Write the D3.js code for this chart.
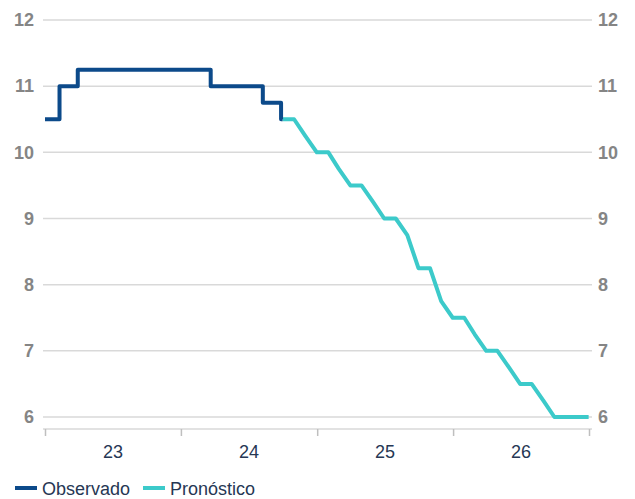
<!DOCTYPE html>
<html>
<head>
<meta charset="utf-8">
<script src="https://cdn.jsdelivr.net/npm/d3@7"></script>
<style>
	body { margin: 0; background: #fff; }
	svg text { font-family: "Liberation Sans", Arial, sans-serif; }
</style>
</head>
<body>
<svg id="chart"></svg>
<script>
const W = 635, H = 499;

// tasa observada: fechas de cambio y nivel (escalonada)
const observedDates = ['2023-01-01', '2023-02-09', '2023-03-30', '2024-03-21', '2024-08-08', '2024-09-26', '2024-09-30'];
const observedValues = [10.5, 11, 11.25, 11, 10.75, 10.5, 10.5];

// pronóstico: fin de cada mes
const forecastDates = ['2024-09-30', '2024-10-31', '2024-11-30', '2024-12-31',
	'2025-01-31', '2025-02-28', '2025-03-31', '2025-04-30', '2025-05-31', '2025-06-30',
	'2025-07-31', '2025-08-31', '2025-09-30', '2025-10-31', '2025-11-30', '2025-12-31',
	'2026-01-31', '2026-02-28', '2026-03-31', '2026-04-30', '2026-05-31', '2026-06-30',
	'2026-07-31', '2026-08-31', '2026-09-30', '2026-10-31', '2026-11-30', '2026-12-31'];
const forecastValues = [10.5, 10.5, 10.25, 10,
	10, 9.75, 9.5, 9.5, 9.25, 9,
	9, 8.75, 8.25, 8.25, 7.75, 7.5,
	7.5, 7.25, 7, 7, 6.75, 6.5,
	6.5, 6.25, 6, 6, 6, 6];

const yearLabels = ['23', '24', '25', '26'];
const yearStarts = ['2023-01-01', '2024-01-01', '2025-01-01', '2026-01-01', '2027-01-01'];
const yTicks = [6, 7, 8, 9, 10, 11, 12];

const seriesNames = ['Observado', 'Pronóstico'];
const colors = { 'Observado': '#0c4a8a', 'Pronóstico': '#3ccaca' };

const parse = d3.timeParse('%Y-%m-%d');

const svg = d3.select('#chart').attr('width', W).attr('height', H);

const x = d3.scaleTime()
	.domain([parse(yearStarts[0]), parse(yearStarts[yearStarts.length - 1])])
	.range([45, 589]);
const y = d3.scaleLinear()
	.domain([6, 12]).range([417, 20]);

// gridlines + left labels
const gLeft = svg.append('g').attr('transform', 'translate(43,0)')
	.call(d3.axisLeft(y).tickValues(yTicks).tickSize(0).tickPadding(9).tickFormat(d3.format('d')));
gLeft.select('.domain').remove();
gLeft.selectAll('text').attr('fill', '#858585').attr('font-size', 18).attr('font-weight', 'bold');

svg.append('g').selectAll('line').data(yTicks).enter()
	.append('line')
		.attr('x1', 43).attr('x2', 592)
		.attr('y1', d => y(d)).attr('y2', d => y(d))
		.attr('stroke', '#d9d9d9').attr('stroke-width', 1.5);

const gRight = svg.append('g').attr('transform', 'translate(592,0)')
	.call(d3.axisRight(y).tickValues(yTicks).tickSize(0).tickPadding(6).tickFormat(d3.format('d')));
gRight.select('.domain').remove();
gRight.selectAll('text').attr('fill', '#858585').attr('font-size', 18).attr('font-weight', 'bold');

// x axis
const gx = svg.append('g').attr('transform', 'translate(0,429)')
	.call(d3.axisBottom(x).tickValues(yearStarts.map(parse)).tickSize(7).tickFormat(''));
gx.select('.domain').attr('d', 'M43,0H592').attr('stroke', '#d9d9d9').attr('stroke-width', 1.5);
gx.selectAll('.tick line').attr('stroke', '#bfbfbf').attr('stroke-width', 1.5);

svg.append('g').selectAll('text').data(yearLabels).enter()
	.append('text')
		.attr('x', (d, i) => (x(parse(yearStarts[i])) + x(parse(yearStarts[i + 1]))) / 2)
		.attr('y', 458)
		.attr('text-anchor', 'middle')
		.attr('font-size', 18)
		.attr('fill', '#263754')
		.text(d => d);

// lines
const observed = observedDates.map((d, i) => ({ date: parse(d), value: observedValues[i] }));
const forecast = forecastDates.map((d, i) => ({ date: parse(d), value: forecastValues[i] }));

const stepLine = d3.line().x(d => x(d.date)).y(d => y(d.value)).curve(d3.curveStepAfter);
const line = d3.line().x(d => x(d.date)).y(d => y(d.value));

svg.append('path').datum(forecast)
	.attr('d', line)
	.attr('fill', 'none')
	.attr('stroke', colors['Pronóstico'])
	.attr('stroke-width', 4)
	.attr('stroke-linejoin', 'round');

svg.append('path').datum(observed)
	.attr('d', stepLine)
	.attr('fill', 'none')
	.attr('stroke', colors['Observado'])
	.attr('stroke-width', 4)
	.attr('stroke-linejoin', 'round');

// legend
const legend = svg.append('g').attr('transform', 'translate(15,488)');
const legendX = [0, 128];
seriesNames.forEach((name, i) => {
	const item = legend.append('g').attr('transform', `translate(${legendX[i]},0)`);
	item.append('line')
		.attr('x1', 0).attr('x2', 22).attr('y1', 0).attr('y2', 0)
		.attr('stroke', colors[name]).attr('stroke-width', 4);
	item.append('text')
		.attr('x', 27).attr('y', 6.5)
		.attr('font-size', 18)
		.attr('fill', '#263754')
		.text(name);
});
</script>
</body>
</html>
